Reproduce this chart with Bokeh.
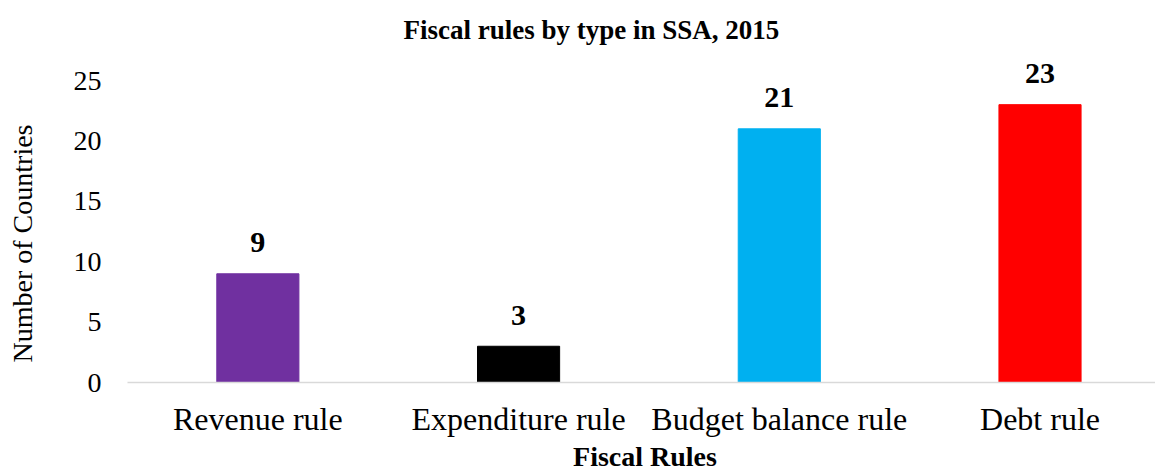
from bokeh.plotting import figure
from bokeh.models import ColumnDataSource, FixedTicker, Range1d
from bokeh.core.properties import value
from bokeh.embed import file_html
from bokeh.resources import INLINE

categories = ["Revenue rule", "Expenditure rule", "Budget balance rule", "Debt rule"]
counts = [9, 3, 21, 23]
colors = ["#7030A0", "#000000", "#00B0F0", "#FF0000"]
y_ticks = [0, 5, 10, 15, 20, 25]

FONT = "Liberation Serif"
NB = "\u00a0"
xs = [i + 0.5 for i in range(len(categories))]

src = ColumnDataSource(dict(x=xs, top=counts, color=colors,
                            label=[str(c) for c in counts]))

p = figure(width=1155, height=474, output_backend="svg", toolbar_location=None,
           x_range=Range1d(0, 3.943), y_range=Range1d(0, 27.07),
           min_border_left=127, min_border_right=0, min_border_top=55,
           min_border_bottom=92)

p.vbar(x="x", top="top", width=0.315, color="color", source=src)
p.text(x="x", y="top", text="label", source=src, text_align="center",
       text_baseline="alphabetic", y_offset=-31, text_font=value(FONT),
       text_font_size="30px", text_font_style="bold", text_color="#000000")

p.title.text = "Fiscal rules by type in SSA, 2015"
p.title.text_font = FONT
p.title.text_font_size = "27px"
p.title.text_font_style = "bold"
p.title.align = "left"
p.title.offset = 276
p.title.standoff = 22
p.title.text_color = "#000000"

p.xaxis.ticker = FixedTicker(ticks=xs)
p.xaxis.major_label_overrides = {x: c for x, c in zip(xs, categories)}
p.xaxis.major_label_text_font = FONT
p.xaxis.major_label_text_font_size = "32px"
p.xaxis.major_label_text_color = "#000000"
p.xaxis.major_label_standoff = 12
p.xaxis.axis_line_color = "#D9D9D9"
p.xaxis.axis_line_width = 1.5
p.xaxis.major_tick_line_color = None
p.xaxis.minor_tick_line_color = None
p.xaxis.axis_label = NB + "Fiscal Rules"
p.xaxis.axis_label_text_font = FONT
p.xaxis.axis_label_text_font_size = "28px"
p.xaxis.axis_label_text_font_style = "bold"
p.xaxis.axis_label_text_color = "#000000"
p.xaxis.axis_label_standoff = 1

p.yaxis.ticker = FixedTicker(ticks=y_ticks)
p.yaxis.major_label_text_font = FONT
p.yaxis.major_label_text_font_size = "28px"
p.yaxis.major_label_text_color = "#000000"
p.yaxis.major_label_standoff = 20
p.yaxis.axis_line_color = None
p.yaxis.major_tick_line_color = None
p.yaxis.minor_tick_line_color = None
p.yaxis.axis_label = "Number of Countries" + NB * 7
p.yaxis.axis_label_text_font = FONT
p.yaxis.axis_label_text_font_size = "28px"
p.yaxis.axis_label_text_font_style = "normal"
p.yaxis.axis_label_text_color = "#000000"
p.yaxis.axis_label_standoff = 33

p.xgrid.grid_line_color = None
p.ygrid.grid_line_color = None
p.outline_line_color = None

open("out.html", "w").write(file_html(p, INLINE))
